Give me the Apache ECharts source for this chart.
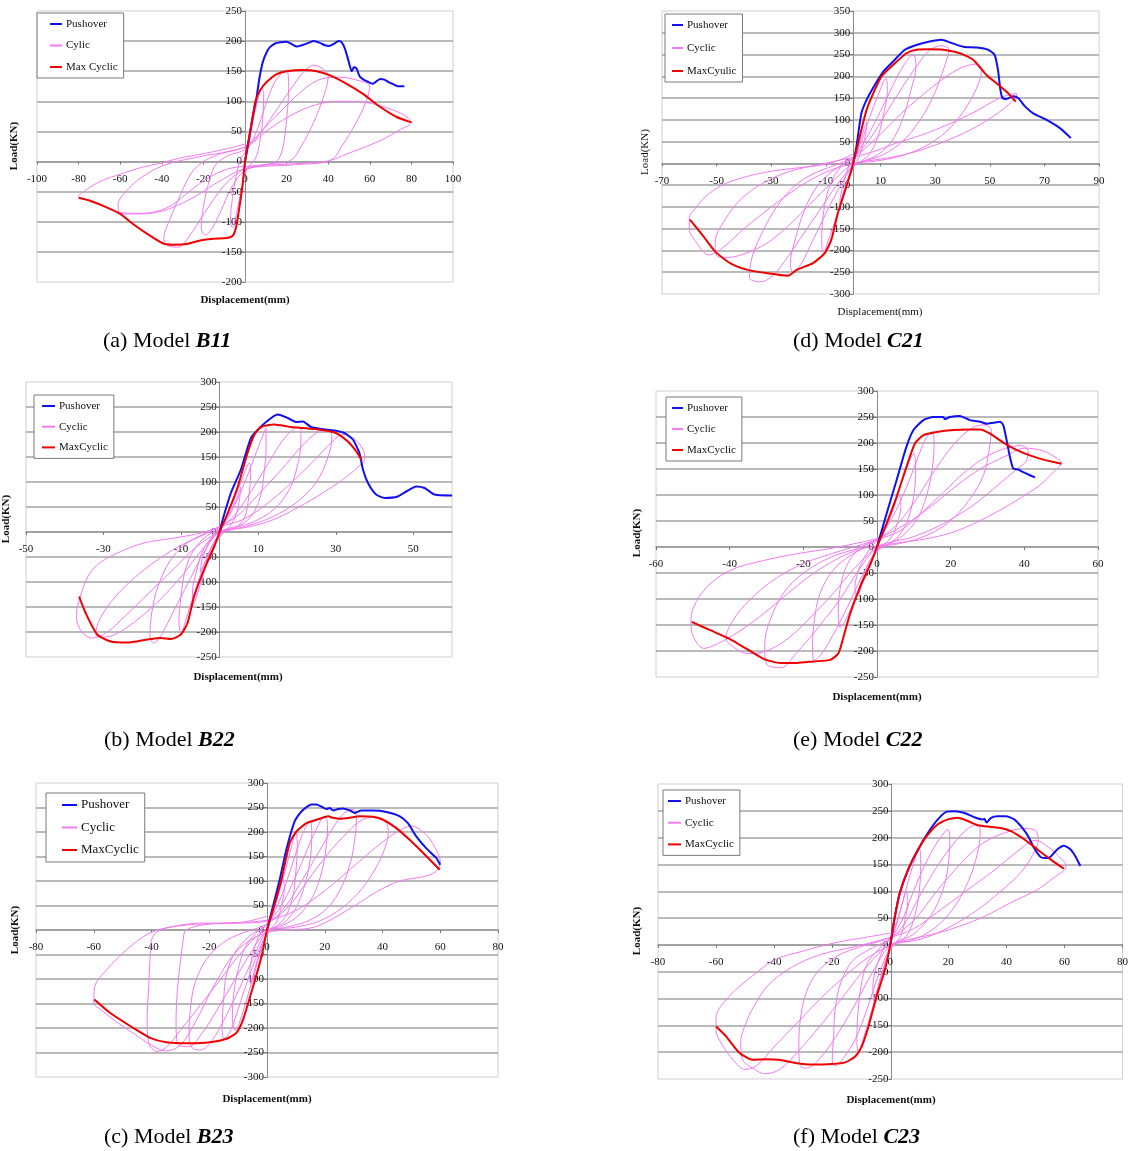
<!DOCTYPE html>
<html>
<head>
<meta charset="utf-8">
<script src="https://cdn.jsdelivr.net/npm/echarts@6/dist/echarts.min.js"></script>
<style>
  html, body { margin: 0; background: #fff; }
  #chart { width: 1131px; height: 1151px; }
</style>
</head>
<body>
<div id="chart"></div>
<script>
// ---- data (displacement mm, load kN) ----

// (a) B11
var pushA = [[0,0],[2,40],[4,80],[5.5,105],[7,140],[8.8,168],[10.5,182],[12,190],[14.5,196],[17,198],[20,199],[22.5,195],[25,191],[28,194],[30.5,197],[33,200],[36,197],[38.5,193],[40.5,192],[42.5,195],[45,200],[46.5,198],[48,188],[49.7,168],[51.3,150],[52.4,157],[53.7,154],[55,142],[57,136],[60,131],[61.5,129],[63.5,134],[65,137],[67,136],[69,132],[71,129],[73.7,125],[76.6,125]];
var envA = [[-80,-60],[-74.5,-65],[-66.5,-76],[-60,-87],[-53.7,-104],[-45.7,-123],[-39.3,-136],[-34.5,-138],[-28,-137],[-21.6,-131],[-15.2,-128],[-8.8,-127],[-5.9,-123],[-4.3,-109],[-2.7,-76],[-1.1,-37],[0,0],[2,40],[4,80],[5,100],[7.2,118],[10.4,132],[15.2,145],[20,150],[28,152],[34.5,150],[40.9,143],[48.9,129],[56.9,112],[64.9,91],[72.9,74],[80,65]];
var cycA = [[0,0],[2,30],[4,70],[6,100],[8,122],[9,112],[8.5,70],[7,30],[5,5],[2,-8],[0,-20],[-2,-50],[-4,-85],[-6,-110],[-7,-100],[-6,-60],[-4,-20],[-2,5],[0,15],
  [5,45],[10,95],[14,130],[18,148],[20,152],[21,125],[20,70],[18,20],[15,0],[8,-6],[0,-15],[-6,-40],[-12,-85],[-16,-112],[-19,-122],[-21,-112],[-20,-75],[-17,-30],[-14,-5],[-8,10],[0,20],
  [8,50],[16,90],[24,130],[29,152],[33,160],[37,155],[40,142],[38,110],[33,65],[27,25],[22,2],[12,-4],[0,-12],[-10,-40],[-20,-88],[-27,-125],[-32,-142],[-37,-140],[-39,-128],[-36,-95],[-31,-55],[-26,-20],[-20,0],[-10,15],[0,25],
  [12,65],[25,110],[35,135],[45,140],[53,136],[60,125],[58,98],[53,62],[47,28],[41,2],[25,-5],[0,-12],[-12,-32],[-24,-58],[-36,-78],[-46,-86],[-55,-87],[-60,-86],[-61,-72],[-56,-45],[-47,-20],[-37,-4],[-22,8],[0,24],
  [12,55],[25,82],[37,97],[48,100],[60,97],[70,87],[76,78],[80,65],[74,52],[67,38],[59,26],[50,14],[40,1],[28,-3],[15,-5],[0,-8],[-8,-12],[-15,-22],[-22,-37],[-29,-56],[-36,-74],[-44,-84],[-52,-86],[-61,-84],[-69,-72],[-76,-63],[-80,-58],[-76,-46],[-69,-32],[-60,-21],[-50,-10],[-41,-3],[-31,6],[-20,13],[-9,21],[0,29]];

// (d) C21
var pushD = [[0,0],[1.2,39],[3,115],[4.9,146],[7.9,180],[11,211],[14.6,234],[18.9,261],[23.1,272],[28,280],[32.3,284],[35.4,278],[40.3,268],[45.2,266],[49.4,261],[51.8,249],[53,215],[53.9,169],[54.7,150],[56.1,148],[58.6,154],[60.4,150],[62.9,131],[65.9,115],[70.8,100],[75.7,81],[79.7,58]];
var envD = [[-59.8,-129],[-54.9,-167],[-50.6,-202],[-45.1,-229],[-39,-244],[-31.7,-252],[-23.8,-258],[-20.8,-245],[-14.7,-229],[-10.4,-206],[-8,-175],[-5.6,-114],[-2.5,-53],[0,0],[2.4,62],[4.9,123],[7.9,169],[10.4,200],[14.6,226],[19.5,253],[23.1,261],[28,262],[32.9,261],[39,253],[43.9,238],[48.8,203],[52.5,184],[56.1,165],[59.5,142]];
var cycD = [[0,0],[2,40],[4,80],[5,95],[4.5,65],[3,30],[1.5,5],[0,-10],[-2,-45],[-4,-85],[-5,-100],[-4.5,-70],[-3,-35],[-1.5,-5],[0,10],
  [3,50],[6,105],[9,155],[12,195],[12.5,165],[11,110],[9,60],[6,22],[3,5],[0,-8],[-3,-55],[-6,-120],[-9,-175],[-11,-205],[-11.5,-175],[-11,-120],[-9.5,-70],[-7,-30],[-4,-5],[0,12],
  [5,60],[10,120],[15,185],[19,230],[22,250],[23,225],[21,165],[18,100],[14,50],[9,20],[4,6],[0,-5],[-5,-55],[-10,-115],[-15,-180],[-19,-230],[-22,-250],[-23,-230],[-21,-170],[-18,-110],[-14,-60],[-9,-25],[-4,-3],[0,12],
  [6,55],[12,115],[18,175],[24,230],[28,260],[32,270],[35,262],[33,215],[29,150],[24,95],[18,50],[11,20],[4,5],[0,-5],[-6,-50],[-12,-105],[-18,-160],[-24,-215],[-29,-255],[-34,-272],[-38,-262],[-37,-215],[-33,-155],[-28,-100],[-22,-55],[-15,-25],[-7,-5],[0,14],
  [8,55],[16,105],[24,150],[32,190],[38,215],[42,225],[45,228],[47,218],[46,185],[42,135],[36,85],[28,45],[18,18],[8,5],[0,-2],[-8,-45],[-16,-95],[-24,-145],[-32,-185],[-40,-208],[-46,-216],[-50,-212],[-50.5,-180],[-47,-130],[-41,-82],[-33,-45],[-23,-18],[-12,-2],[0,14],
  [8,28],[15,45],[25,65],[35,90],[45,120],[52,145],[57,158],[60,160],[59,148],[55,125],[48,95],[40,68],[30,42],[20,22],[10,10],[0,0],[-10,-20],[-20,-55],[-30,-100],[-40,-150],[-48,-195],[-53,-210],[-57,-185],[-60,-150],[-60,-125],[-58,-105],[-54,-76],[-48,-50],[-40,-32],[-30,-18],[-20,-10],[-11,-3],[-4,10],[0,22]];

// (b) B22
var pushB = [[0,0],[0.8,25],[2.9,78],[5.5,125],[8.1,188],[10.7,211],[13.3,228],[15,235],[17.6,228],[19.7,220],[21.5,221],[23.6,210],[26.2,206],[29.7,203],[32.2,198],[34.4,185],[36.1,158],[37,125],[38.3,98],[40.4,75],[42.6,68],[46,71],[48.2,81],[50.8,91],[52.9,88],[55.5,75],[60,73]];
var envB = [[-36.3,-129],[-34.6,-162],[-31.6,-205],[-28.1,-219],[-23.8,-221],[-18.6,-215],[-15.2,-212],[-12.6,-214],[-10,-205],[-8.3,-182],[-6.6,-129],[-4,-75],[-1.4,-29],[0,0],[2.1,38],[4.7,91],[7.2,158],[9,195],[10.7,210],[14.1,215],[18.4,210],[24.5,206],[29.7,199],[33.1,181],[35.3,161],[36.7,143]];
var cycB = [[0,0],[2,30],[4,60],[5.5,90],[5,60],[4,30],[2,5],[0,-10],[-2,-35],[-4,-65],[-5,-80],[-4.5,-55],[-3,-25],[-1,0],[0,8],
  [2,35],[4,70],[6,110],[7.7,138],[8,115],[7.5,70],[6.5,30],[4,8],[1,0],[-2,-30],[-4,-80],[-6,-130],[-7,-150],[-7,-120],[-6,-80],[-4.5,-40],[-2,-10],[0,5],
  [3,40],[6,90],[9,150],[11.5,200],[12,208],[12,170],[11.5,120],[10.5,70],[8,30],[4,8],[0,-5],[-3,-45],[-6,-110],[-8.5,-170],[-10,-202],[-10.5,-180],[-10,-130],[-9,-80],[-7,-40],[-4,-12],[0,8],
  [4,35],[8,80],[12,130],[16,180],[19,205],[21,210],[21,180],[20,130],[18,85],[14,45],[8,18],[0,0],[-4,-40],[-8,-100],[-12,-160],[-15,-205],[-17,-222],[-18,-210],[-17.5,-160],[-16,-110],[-13,-60],[-9,-25],[-4,-5],[0,10],
  [5,35],[10,75],[16,125],[21,170],[25,198],[28,205],[29,190],[28,150],[25,100],[20,60],[13,28],[6,10],[0,0],[-5,-40],[-10,-90],[-16,-140],[-22,-180],[-27,-205],[-30,-210],[-32,-205],[-31,-175],[-27,-130],[-21,-85],[-14,-45],[-7,-15],[0,10],
  [6,25],[12,55],[18,95],[24,140],[29,180],[32,195],[35,185],[37,165],[37.5,150],[37,140],[33,112],[27,80],[20,48],[13,22],[6,8],[0,0],[-6,-30],[-12,-75],[-18,-120],[-24,-165],[-29,-200],[-33,-212],[-36,-195],[-37,-165],[-36,-130],[-34,-89],[-31,-62],[-25.5,-39],[-19.5,-22],[-11.7,-12],[-4.8,-2],[0,11]];

// (e) C22
var pushE = [[0,0],[2.6,64],[5.3,128],[8,193],[9.9,225],[12.6,244],[15.3,250],[18,250],[18.4,246],[19.8,250],[22.5,252],[25.2,244],[28,241],[29.7,237],[31.6,239],[33.4,241],[34.3,234],[35.2,205],[36.1,173],[37,151],[38.3,149],[39.7,144],[41.5,138],[42.9,134]];
var envE = [[-50.3,-144],[-45.3,-160],[-39.9,-177],[-35.4,-196],[-30.8,-215],[-26.3,-223],[-21.8,-223],[-17.3,-220],[-12.7,-217],[-10.5,-205],[-9.1,-173],[-7.3,-128],[-4.6,-77],[-1.9,-35],[0,0],[2.6,45],[5.3,96],[8,154],[10.3,199],[12.6,215],[16.2,221],[20.7,225],[25.2,226],[28,226],[30.7,218],[33.4,205],[36.1,193],[39.7,181],[44.2,170],[50.1,160]];
var cycE = [[0,0],[2,30],[4,65],[6,100],[6.5,80],[5.5,45],[3.5,15],[1,0],[-1.5,-25],[-3.5,-60],[-5.5,-95],[-6,-80],[-5,-45],[-3,-15],[-1,5],[0,12],
  [3,50],[6,110],[8.5,160],[10,180],[10.5,150],[10,100],[8.5,55],[6,22],[3,5],[0,-8],[-3,-45],[-6,-100],[-8.5,-140],[-10,-155],[-10.5,-125],[-10,-80],[-8.5,-40],[-6,-12],[-3,5],[0,15],
  [4,55],[8,115],[11,170],[13,205],[15,222],[15.5,200],[15,150],[13.5,100],[11,55],[7,22],[3,5],[0,-5],[-4,-55],[-8,-115],[-12,-170],[-15,-205],[-17,-218],[-17.5,-190],[-17,-140],[-15.5,-90],[-12,-45],[-7,-15],[-3,0],[0,14],
  [5,40],[10,85],[15,140],[20,190],[25,225],[29,235],[31,225],[30.5,190],[29,140],[25,90],[19,45],[12,18],[5,5],[0,-2],[-5,-45],[-10,-100],[-16,-155],[-22,-205],[-26,-232],[-30,-225],[-30.5,-190],[-29,-140],[-25,-85],[-19,-45],[-12,-18],[-5,-2],[0,14],
  [6,30],[12,65],[18,105],[24,145],[30,175],[35,190],[39,195],[41,185],[40.5,165],[38,150],[33,120],[26,80],[18,45],[10,20],[3,8],[0,0],[-6,-40],[-12,-90],[-18,-135],[-24,-175],[-30,-200],[-35,-205],[-39,-192],[-41,-175],[-39,-140],[-35,-105],[-29,-68],[-21,-35],[-12,-12],[-4,5],[0,15],
  [8,45],[15,80],[22,120],[28,150],[35,175],[40,190],[45,185],[49,170],[50,162],[48,145],[44,118],[38,90],[30,58],[22,32],[15,18],[8,10],[0,2],[-5,-5],[-10,-20],[-15,-40],[-20,-65],[-26,-100],[-32,-135],[-38,-165],[-43,-185],[-47,-195],[-50,-170],[-50.5,-145],[-49.8,-116],[-46.2,-77],[-39.9,-45],[-30.8,-26],[-21.8,-13],[-12.7,-3],[-3.7,10],[0,16]];

// (c) B23
var pushC = [[0,0],[1.5,35],[4.4,103],[6.7,164],[9.6,222],[11.9,242],[15.4,256],[17.1,256],[18.8,252],[20.6,247],[21.7,249],[22.9,244],[24.6,247],[26.3,248],[28.7,244],[30.4,239],[32.7,244],[36.7,244],[41.4,241],[46,232],[48.8,218],[51.7,191],[55.1,167],[58.6,147],[60,133]];
var envC = [[-59.8,-142],[-54.4,-169],[-46.3,-200],[-40.5,-220],[-34.8,-229],[-26.7,-231],[-19.8,-229],[-14,-222],[-10.6,-210],[-8.3,-183],[-4.8,-115],[-1.9,-54],[0,0],[2.1,41],[5,103],[7.9,178],[10.2,201],[13.7,218],[18.3,227],[21.2,232],[22.9,229],[25.2,227],[28.7,229],[32.1,232],[36.7,231],[40.2,225],[44.8,208],[49.4,184],[54.1,157],[59.8,123]];
var cycC = [[0,0],[2,35],[4,75],[5.5,105],[6,85],[5,50],[3.5,18],[1,0],[-1.5,-30],[-3.5,-70],[-5.5,-110],[-6,-90],[-5,-50],[-3,-15],[-1,5],[0,12],
  [3,55],[6,115],[8.5,170],[10,200],[10.5,170],[10,120],[9,70],[6.5,28],[3,6],[0,-8],[-3,-55],[-6,-120],[-9,-180],[-11,-205],[-12,-180],[-11.5,-130],[-10,-80],[-7.5,-35],[-4,-8],[0,12],
  [4,55],[8,120],[11,175],[13,205],[15,222],[15.5,195],[15,145],[13,90],[10,45],[6,15],[2,4],[0,-5],[-4,-60],[-8,-125],[-11,-180],[-13,-210],[-15,-222],[-15.5,-195],[-15,-140],[-14,-90],[-11,-45],[-6,-12],[-2,2],[0,12],
  [5,50],[10,110],[14,165],[17,205],[20,232],[21,215],[20.5,170],[19,120],[16,70],[11,30],[5,8],[0,-2],[-5,-60],[-10,-125],[-15,-185],[-19,-225],[-23,-245],[-26,-240],[-27,-210],[-26.5,-160],[-25,-110],[-21,-60],[-15,-25],[-8,-5],[0,12],
  [6,45],[12,100],[18,160],[23,210],[27,240],[30,246],[31,230],[30.5,190],[29,140],[26,90],[21,45],[14,18],[6,5],[0,-2],[-6,-50],[-12,-110],[-18,-170],[-23,-215],[-27,-238],[-31,-232],[-31.5,-180],[-31,-120],[-30,-65],[-29,-20],[-28,0],[-20,12],[-10,14],[0,18],
  [7,45],[14,100],[21,155],[28,200],[33,225],[38,230],[41,222],[42,200],[41,170],[38,130],[33,85],[26,45],[18,18],[9,5],[0,0],[-8,-40],[-16,-100],[-24,-160],[-30,-205],[-35,-240],[-38,-248],[-41,-230],[-41.5,-180],[-41,-120],[-40.5,-60],[-40,-20],[-37,0],[-28,10],[-15,14],[0,20],
  [10,40],[20,80],[30,130],[38,170],[45,200],[50,212],[55,195],[58,170],[60,140],[59,122],[55,110],[46,100],[38,78],[28,41],[17,7],[8,0],[0,-5],[-10,-40],[-18,-110],[-25,-190],[-30,-235],[-35,-247],[-40,-235],[-46,-212],[-52,-188],[-57,-165],[-60,-148],[-59.6,-115],[-55.5,-81],[-48.6,-40],[-40.5,-6],[-32.5,7],[-23.3,14],[-11.7,14],[0,28]];

// (f) C23
var pushF = [[0,0],[1.6,53],[3.3,97],[6.2,141],[9.6,178],[13,209],[16.4,234],[19.3,248],[22.1,249],[25.6,246],[29,238],[31.8,234],[32.4,235],[33.2,228],[34.7,237],[37,240],[39.8,240],[42.7,234],[45.5,218],[47.8,200],[49.5,181],[51.8,164],[54.1,162],[55.3,165],[57.5,178],[59.8,185],[62.1,178],[63.8,165],[65.5,147]];
var envF = [[-60,-152],[-56.6,-170],[-52,-201],[-47.5,-214],[-42.9,-213],[-38.4,-214],[-32.6,-220],[-26.9,-223],[-20.1,-222],[-15.5,-219],[-12.1,-208],[-9.8,-189],[-7.5,-152],[-4.7,-96],[-1.8,-46],[0,0],[1.6,53],[3.3,97],[6.2,141],[9.6,178],[13,206],[16.4,225],[19.9,234],[23.3,237],[26.7,231],[30.1,223],[34.7,220],[38.1,218],[41.6,212],[46.1,197],[50.7,178],[55.3,159],[59.8,142]];
var cycF = [[0,0],[2,35],[4,75],[5.5,100],[6,80],[5,45],[3.5,15],[1,0],[-1.5,-30],[-3.5,-65],[-5.5,-100],[-6,-80],[-5,-45],[-3,-15],[-1,5],[0,12],
  [3,55],[6,115],[8.5,160],[10,180],[10.5,150],[10,100],[8.5,55],[6,20],[3,5],[0,-8],[-3,-55],[-6,-115],[-9,-170],[-11,-200],[-11.5,-170],[-11,-120],[-10,-75],[-8,-35],[-4,-8],[0,12],
  [4,45],[8,100],[12,150],[16,190],[19,212],[20,215],[20.5,195],[20,150],[18,100],[14,55],[8,20],[2,5],[0,-5],[-4,-55],[-8,-120],[-12,-175],[-16,-210],[-19,-225],[-20,-215],[-19.5,-170],[-19,-120],[-17,-70],[-13,-30],[-7,-8],[0,12],
  [5,40],[10,90],[16,145],[22,190],[27,218],[30,225],[31,210],[30,170],[27,120],[22,70],[15,30],[7,8],[0,-2],[-6,-50],[-12,-110],[-18,-165],[-24,-210],[-29,-230],[-31,-225],[-31.5,-190],[-31,-140],[-29,-90],[-25,-50],[-18,-20],[-10,-3],[0,14],
  [8,45],[16,100],[24,150],[32,190],[40,210],[46,217],[50,213],[51,195],[49,167],[45,135],[38,100],[30,65],[20,32],[10,10],[0,0],[-8,-40],[-16,-95],[-24,-150],[-32,-200],[-38,-232],[-43,-240],[-48,-228],[-51,-212],[-51.5,-180],[-50,-150],[-47,-115],[-42,-75],[-34,-42],[-24,-18],[-12,-3],[0,14],
  [8,30],[16,60],[26,100],[36,140],[44,175],[50,195],[55,180],[59,160],[60.5,148],[60,140],[57,128],[50.7,103],[42,80],[32.4,53],[24,35],[16.4,22],[8,12],[3.9,7],[0,0],[-8,-25],[-16,-60],[-24,-100],[-32,-145],[-40,-190],[-46,-225],[-50,-232],[-54,-215],[-58,-185],[-60,-160],[-60,-150],[-60,-136],[-55.5,-96],[-47.5,-58],[-39.5,-27],[-30.4,-12],[-19,4],[-6.4,16],[0,22]];

// tick labels where the spacing does not start at a multiple of the step
var xTicksB = [-50, -30, -10, 10, 30, 50];
var xTicksD = [-70, -50, -30, -10, 10, 30, 50, 70, 90];

var namesA = ['Pushover', 'Cylic', 'Max Cyclic'];
var namesD = ['Pushover', 'Cyclic', 'MaxCyulic'];
var namesStd = ['Pushover', 'Cyclic', 'MaxCyclic'];

// ---- layout ----
var SERIF = '"Liberation Serif", "Times New Roman", serif';
// legend: [left, top, itemGap, padLeft, itemWidth, fontSize]
var panels = [
  { grid: [37, 11, 416, 271], x: [-100, 100, 20], y: [-200, 250], names: namesA, data: [pushA, cycA, envA],
    legend: [37, 13, 9.5, 13, 12, 11], bold: true, yName: [14, 146], xName: [245, 300], cap: [103, 341, '(a) Model ', 'B11'] },
  { grid: [662, 11, 437, 283], x: [-70, 90, null, xTicksD], y: [-300, 350], names: namesD, data: [pushD, cycD, envD],
    legend: [665, 14, 11, 7, 11, 11], bold: false, yName: [645, 152], xName: [880, 312], cap: [793, 341, '(d) Model ', 'C21'] },
  { grid: [26, 382, 426, 275], x: [-50, 60, null, xTicksB], y: [-250, 300], names: namesStd, data: [pushB, cycB, envB],
    legend: [34, 395, 8.7, 8, 13, 11], bold: true, yName: [6, 519], xName: [238, 677], cap: [104, 740, '(b) Model ', 'B22'] },
  { grid: [656, 391, 442, 286], x: [-60, 60, 20], y: [-250, 300], names: namesStd, data: [pushE, cycE, envE],
    legend: [666, 397, 9, 6, 11, 11], bold: true, yName: [637, 533], xName: [877, 697], cap: [793, 740, '(e) Model ', 'C22'] },
  { grid: [36, 783, 462, 294], x: [-80, 80, 20], y: [-300, 300], names: namesStd, data: [pushC, cycC, envC],
    legend: [46, 793, 8.5, 16, 15, 13], bold: true, yName: [15, 930], xName: [267, 1099], cap: [104, 1137, '(c) Model ', 'B23'] },
  { grid: [658, 784, 467, 295], x: [-80, 80, 20], y: [-250, 300], names: namesStd, data: [pushF, cycF, envF],
    legend: [663, 790, 9.7, 5, 13, 11], bold: true, yName: [637, 931], xName: [891, 1100], cap: [793, 1137, '(f) Model ', 'C23'] }
];

var COLORS = ['#1010f0', '#f27af2', '#f00000'];
var WIDTHS = [2, 1, 2];

var option = {
  backgroundColor: '#fff',
  animation: false,
  grid: [], xAxis: [], yAxis: [], legend: [], series: [], graphic: []
};

panels.forEach(function (p, i) {
  var gl = p.grid[0], gt = p.grid[1], gw = p.grid[2], gh = p.grid[3];
  option.grid.push({
    left: gl, top: gt, width: gw, height: gh,
    show: true, borderColor: '#cfcfcf', borderWidth: 1, backgroundColor: '#fff'
  });

  // axes cross at the origin: shift them in from the grid edges
  var zeroX = gw * (0 - p.x[0]) / (p.x[1] - p.x[0]);
  var zeroY = gh * (p.y[1] - 0) / (p.y[1] - p.y[0]);

  var xLabel = {
    fontFamily: SERIF, fontSize: 11, color: '#111', margin: 12, hideOverlap: false,
    showMinLabel: true, showMaxLabel: true
  };
  var xAx = {
    type: 'value', gridIndex: i, min: p.x[0], max: p.x[1],
    position: 'bottom', offset: -(gh - zeroY),
    axisLine: { onZero: false, lineStyle: { color: '#9a9a9a', width: 1.5 } },
    axisTick: { show: true, length: 3, lineStyle: { color: '#777' } },
    axisLabel: xLabel,
    splitLine: { show: false }
  };
  if (p.x[3]) {
    xAx.interval = 10;
    xLabel.customValues = p.x[3];
    xAx.axisTick.customValues = p.x[3];
  } else {
    xAx.interval = p.x[2];
  }
  option.xAxis.push(xAx);

  option.yAxis.push({
    type: 'value', gridIndex: i, min: p.y[0], max: p.y[1], interval: 50,
    position: 'left', offset: -zeroX,
    axisLine: { onZero: false, lineStyle: { color: '#8a8a8a', width: 1 } },
    axisTick: { show: true, length: 3, lineStyle: { color: '#777' } },
    axisLabel: { fontFamily: SERIF, fontSize: 11, color: '#111', margin: 3, hideOverlap: false },
    splitLine: { show: true, showMinLine: false, showMaxLine: false, lineStyle: { color: '#a3a3a3', width: 1.5 } }
  });

  var lg = p.legend;
  option.legend.push({
    data: p.names.slice(),
    orient: 'vertical', left: lg[0], top: lg[1],
    icon: 'rect', itemWidth: lg[4], itemHeight: 2, itemGap: lg[2],
    padding: [5, 6, 5, lg[3]],
    backgroundColor: '#fff', borderColor: '#7a7a7a', borderWidth: 1,
    textStyle: { fontFamily: SERIF, fontSize: lg[5], color: '#111', lineHeight: lg[5] + 1, padding: [0, 0, 0, -1] },
    selectedMode: false
  });

  p.names.forEach(function (name, k) {
    option.series.push({
      name: name, type: 'line', xAxisIndex: i, yAxisIndex: i,
      data: p.data[k], symbol: 'none', showSymbol: false,
      smooth: k === 1 ? 0.35 : 0.2,
      z: k === 1 ? 2 : (k === 0 ? 3 : 4),
      lineStyle: { color: COLORS[k], width: WIDTHS[k] },
      itemStyle: { color: COLORS[k] },
      emphasis: { disabled: true }
    });
  });

  var fw = p.bold ? 'bold' : 'normal';
  option.graphic.push({
    type: 'text', x: p.yName[0], y: p.yName[1], rotation: Math.PI / 2,
    style: { text: 'Load(KN)', fontFamily: SERIF, fontSize: 11, fontWeight: fw, fill: '#111',
             textAlign: 'center', textVerticalAlign: 'middle' }
  });
  option.graphic.push({
    type: 'text', x: p.xName[0], y: p.xName[1],
    style: { text: 'Displacement(mm)', fontFamily: SERIF, fontSize: 11, fontWeight: fw, fill: '#111',
             textAlign: 'center', textVerticalAlign: 'middle' }
  });
  option.graphic.push({
    type: 'text', x: p.cap[0], y: p.cap[1],
    style: { text: p.cap[2] + '{m|' + p.cap[3] + '}', fontFamily: SERIF, fontSize: 22, fill: '#000',
             textAlign: 'left', textVerticalAlign: 'middle',
             rich: { m: { fontFamily: SERIF, fontSize: 22, fontWeight: 'bold', fontStyle: 'italic', fill: '#000' } } }
  });
});

var chart = echarts.init(document.getElementById('chart'), null, { renderer: 'canvas' });
chart.setOption(option);
</script>
</body>
</html>
